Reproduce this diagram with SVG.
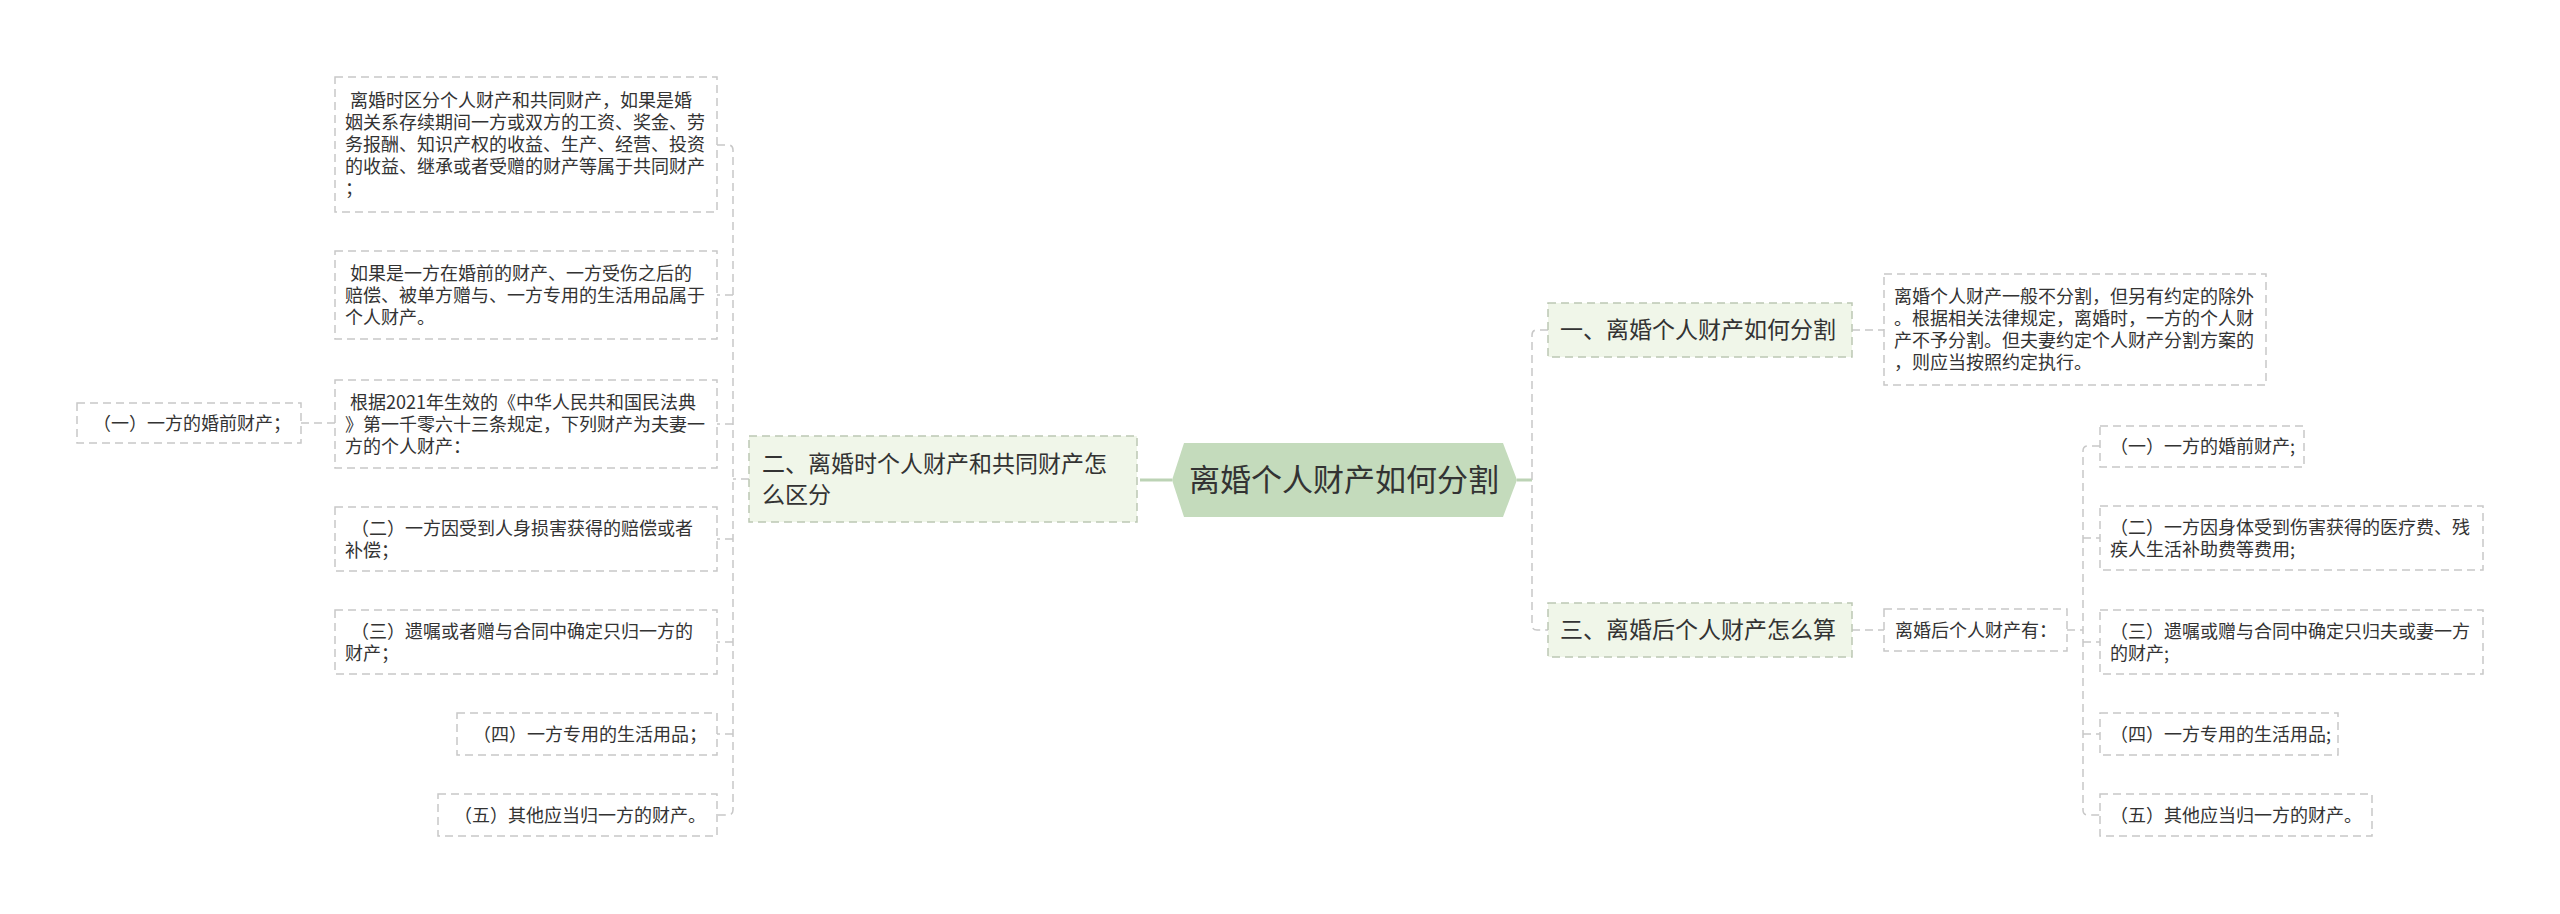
<svg xmlns="http://www.w3.org/2000/svg" width="2560" height="914" viewBox="0 0 2560 914">
<style>
text{font-family:"Noto Sans CJK SC","Noto Sans",sans-serif;fill:#333;}
.d{font-size:18px;}
.l1{font-size:23px;}
.ct{font-size:31px;}
.box{fill:#fff;stroke:#c8c8c8;stroke-width:1.5;stroke-dasharray:8 5;}
.b1{fill:#f0f6e9;stroke:#bcc8b4;stroke-width:1.5;stroke-dasharray:8 5;}
.c{fill:none;stroke:#c8c8c8;stroke-width:1.5;stroke-dasharray:8 5;}
.cs{fill:none;stroke:#bcd3b5;stroke-width:3;}
</style>
<rect width="2560" height="914" fill="#fff"/>
<g id="connectors">
<path class="cs" d="M1140 480 H1172"/>
<path class="cs" d="M1517 480 H1532"/>
<path class="c" d="M749 479 H733"/>
<path class="c" d="M717 145 H728 Q733 145 733 150 V810 Q733 815 728 815 H717"/>
<path class="c" d="M733 295 H717 M733 424 H717 M733 539 H717 M733 642 H717 M733 734 H717"/>
<path class="c" d="M335 423 H301"/>
<path class="c" d="M1548 330 H1537 Q1532 330 1532 335 V625 Q1532 630 1537 630 H1548"/>
<path class="c" d="M1852 330 H1884"/>
<path class="c" d="M1852 630 H1884"/>
<path class="c" d="M2067 630 H2083"/>
<path class="c" d="M2100 446 H2088 Q2083 446 2083 451 V810 Q2083 815 2088 815 H2100"/>
<path class="c" d="M2083 538 H2100 M2083 642 H2100 M2083 734 H2100"/>
</g>
<g id="center">
<polygon points="1172,480 1184,443 1503,443 1517,480 1503,517 1184,517" fill="#c4dbbc"/>
<text class="ct" x="1344" y="491" text-anchor="middle">离婚个人财产如何分割</text>
</g>
<g id="n2">
<rect class="b1" x="749" y="436" width="388" height="86"/>
<text class="l1" x="762" y="472">二、离婚时个人财产和共同财产怎</text>
<text class="l1" x="762" y="503">么区分</text>
</g>
<g id="n1">
<rect class="b1" x="1548" y="303" width="304" height="54"/>
<text class="l1" x="1560" y="338">一、离婚个人财产如何分割</text>
</g>
<g id="n3">
<rect class="b1" x="1548" y="603" width="304" height="54"/>
<text class="l1" x="1560" y="638">三、离婚后个人财产怎么算</text>
</g>
<g id="nA">
<rect class="box" x="335" y="77" width="382" height="135"/>
<text class="d" x="350" y="107">离婚时区分个人财产和共同财产，如果是婚</text>
<text class="d" x="345" y="129">姻关系存续期间一方或双方的工资、奖金、劳</text>
<text class="d" x="345" y="151">务报酬、知识产权的收益、生产、经营、投资</text>
<text class="d" x="345" y="173">的收益、继承或者受赠的财产等属于共同财产</text>
<text class="d" x="345" y="195">；</text>
</g>
<g id="nB">
<rect class="box" x="335" y="251" width="382" height="88"/>
<text class="d" x="350" y="279.5">如果是一方在婚前的财产、一方受伤之后的</text>
<text class="d" x="345" y="301.5">赔偿、被单方赠与、一方专用的生活用品属于</text>
<text class="d" x="345" y="323.5">个人财产。</text>
</g>
<g id="nC">
<rect class="box" x="335" y="380" width="382" height="88"/>
<text class="d" x="350" y="408.5">根据2021年生效的《中华人民共和国民法典</text>
<text class="d" x="345" y="430.5">》第一千零六十三条规定，下列财产为夫妻一</text>
<text class="d" x="345" y="452.5">方的个人财产：</text>
</g>
<g id="nL">
<rect class="box" x="77" y="403" width="224" height="40"/>
<text class="d" x="93" y="429.5">（一）一方的婚前财产；</text>
</g>
<g id="nD">
<rect class="box" x="335" y="507" width="382" height="64"/>
<text class="d" x="351" y="534.5">（二）一方因受到人身损害获得的赔偿或者</text>
<text class="d" x="345" y="556.5">补偿；</text>
</g>
<g id="nE">
<rect class="box" x="335" y="610" width="382" height="64"/>
<text class="d" x="351" y="637.5">（三）遗嘱或者赠与合同中确定只归一方的</text>
<text class="d" x="345" y="659.5">财产；</text>
</g>
<g id="nF">
<rect class="box" x="457" y="713" width="260" height="42"/>
<text class="d" x="473" y="740.5">（四）一方专用的生活用品；</text>
</g>
<g id="nG">
<rect class="box" x="438" y="794" width="279" height="42"/>
<text class="d" x="454" y="821.5">（五）其他应当归一方的财产。</text>
</g>
<g id="nR1">
<rect class="box" x="1884" y="274" width="382" height="111"/>
<text class="d" x="1894" y="302.5">离婚个人财产一般不分割，但另有约定的除外</text>
<text class="d" x="1894" y="324.5">。根据相关法律规定，离婚时，一方的个人财</text>
<text class="d" x="1894" y="346.5">产不予分割。但夫妻约定个人财产分割方案的</text>
<text class="d" x="1894" y="368.5">，则应当按照约定执行。</text>
</g>
<g id="nR3">
<rect class="box" x="1884" y="609" width="183" height="42"/>
<text class="d" x="1895" y="636.5">离婚后个人财产有：</text>
</g>
<g id="i1">
<rect class="box" x="2100" y="426" width="204" height="41"/>
<text class="d" x="2110" y="453">（一）一方的婚前财产;</text>
</g>
<g id="i2">
<rect class="box" x="2100" y="506" width="383" height="64"/>
<text class="d" x="2110" y="533.5">（二）一方因身体受到伤害获得的医疗费、残</text>
<text class="d" x="2110" y="555.5">疾人生活补助费等费用;</text>
</g>
<g id="i3">
<rect class="box" x="2100" y="610" width="383" height="64"/>
<text class="d" x="2110" y="637.5">（三）遗嘱或赠与合同中确定只归夫或妻一方</text>
<text class="d" x="2110" y="659.5">的财产;</text>
</g>
<g id="i4">
<rect class="box" x="2100" y="713" width="238" height="42"/>
<text class="d" x="2110" y="740.5">（四）一方专用的生活用品;</text>
</g>
<g id="i5">
<rect class="box" x="2100" y="794" width="272" height="42"/>
<text class="d" x="2110" y="821.5">（五）其他应当归一方的财产。</text>
</g>
</svg>
